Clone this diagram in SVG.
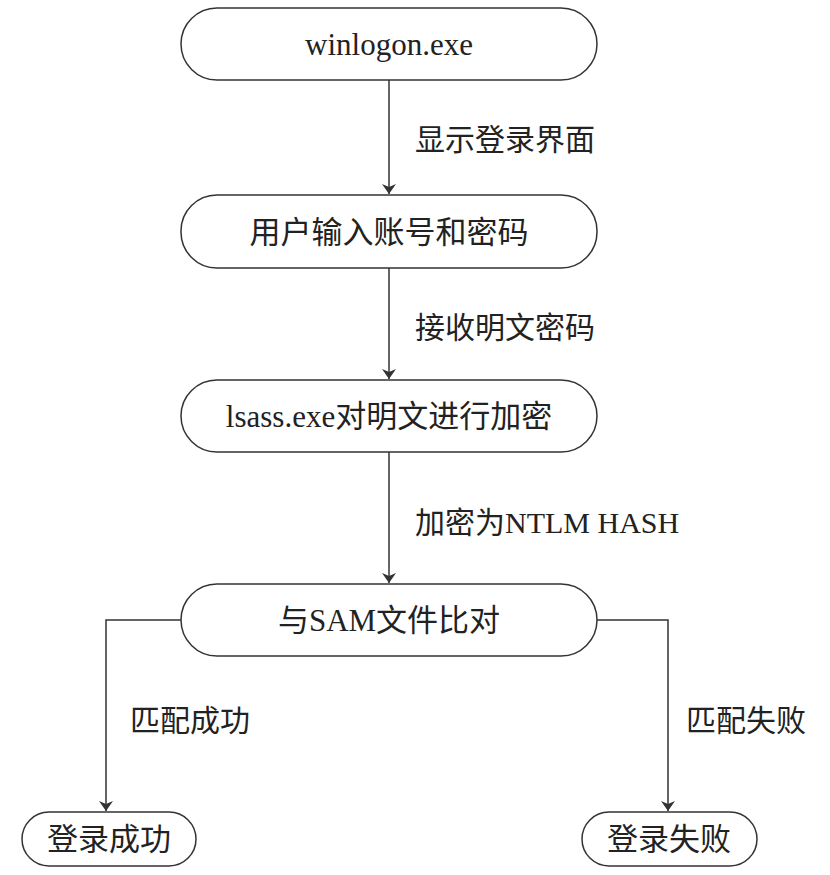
<svg xmlns="http://www.w3.org/2000/svg" width="830" height="875" viewBox="0 0 830 875">
<style>
.n{fill:#fff;stroke:#333;stroke-width:1.5}
.t{font-family:"Liberation Serif","Noto Sans CJK SC",serif;font-size:31px;fill:#222;text-anchor:middle}
.l{font-family:"Liberation Serif","Noto Sans CJK SC",serif;font-size:30px;fill:#222}
.c{fill:none;stroke:#333;stroke-width:1.5;marker-end:url(#a)}
</style>
<defs><marker id="a" viewBox="0 0 10 14" refX="10" refY="7" markerWidth="10" markerHeight="14" markerUnits="userSpaceOnUse" orient="auto"><path d="M0,0 L10,7 L0,14 L3,7 Z" fill="#333"/></marker></defs>
<rect width="830" height="875" fill="#fff"/>
<g id="connectors">
<path class="c" d="M389,80 V194"/>
<path class="c" d="M389,268 V379"/>
<path class="c" d="M389,452 V583"/>
<path class="c" d="M181,620 H106 V811"/>
<path class="c" d="M597,620 H668 V811"/>
<text class="l" x="415" y="150">显示登录界面</text>
<text class="l" x="415" y="338">接收明文密码</text>
<text class="l" x="415" y="533">加密为NTLM HASH</text>
<text class="l" x="130" y="731">匹配成功</text>
<text class="l" x="686" y="731">匹配失败</text>
</g>
<g id="n1"><rect class="n" x="181" y="8" width="416" height="72" rx="36"/><text class="t" x="389" y="55">winlogon.exe</text></g>
<g id="n2"><rect class="n" x="181" y="195" width="416" height="73" rx="36"/><text class="t" x="389" y="243">用户输入账号和密码</text></g>
<g id="n3"><rect class="n" x="181" y="380" width="416" height="72" rx="36"/><text class="t" x="389" y="427">lsass.exe对明文进行加密</text></g>
<g id="n4"><rect class="n" x="181" y="584" width="416" height="72" rx="36"/><text class="t" x="389" y="631">与SAM文件比对</text></g>
<g id="n5"><rect class="n" x="22" y="812" width="174" height="54" rx="27"/><text class="t" x="109" y="850">登录成功</text></g>
<g id="n6"><rect class="n" x="582" y="812" width="175" height="54" rx="27"/><text class="t" x="669" y="850">登录失败</text></g>
</svg>
